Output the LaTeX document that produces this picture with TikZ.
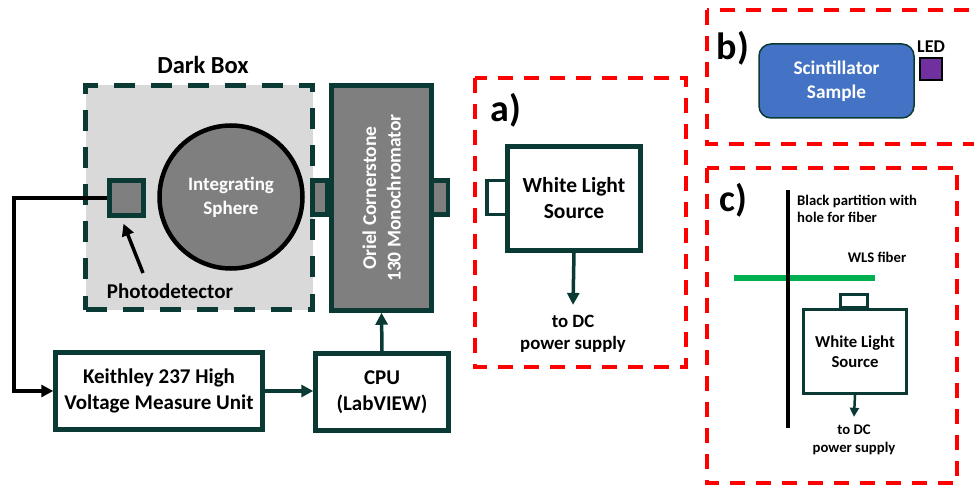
\documentclass[tikz,border=0pt]{standalone}
\usepackage{fontspec}
\setmainfont{Carlito}
\usetikzlibrary{arrows.meta}
\definecolor{darkteal}{HTML}{0B3A35}
\definecolor{boxgray}{HTML}{7F7F7F}
\definecolor{boxlight}{HTML}{D9D9D9}
\definecolor{scintblue}{HTML}{4472C4}
\definecolor{ledpurple}{HTML}{7030A0}
\definecolor{fibergreen}{HTML}{00B050}

\begin{document}
\begin{tikzpicture}[x=1pt,y=-1pt,
    every node/.style={font=\bfseries,align=center,inner sep=0pt},
    box/.style={draw=darkteal,line width=4.5pt,fill=white},
    graybox/.style={draw=darkteal,line width=4.5pt,fill=boxgray,text=white},
    redframe/.style={draw=red,line width=4pt,dash pattern=on 15pt off 11pt},
    flow/.style={draw=darkteal,line width=3.5pt,-{Triangle[length=12pt,width=12pt]}},
    wire/.style={draw=black,line width=3.5pt,-{Triangle[length=12pt,width=12pt]}}]
  \useasboundingbox (0,0) rectangle (974,486);

  % dark box with sphere and photodetector
  \node [draw=darkteal,fill=boxlight,line width=5.5pt,dash pattern=on 21pt off 16pt,minimum width=227pt,minimum height=224pt] (dark) at (199,197.5) {};
  \node [font=\bfseries\fontsize{24.5}{28}\selectfont] (darklabel) at (203,65) {Dark Box};
  \node [circle,draw=black,line width=4.5pt,fill=boxgray,text=white,minimum size=143pt,font=\bfseries\fontsize{19}{24}\selectfont] (sphere) at (231,197) {Integrating\\Sphere};
  \node [graybox,minimum width=34pt,minimum height=35pt] (pd) at (126.5,198) {};
  \node [font=\bfseries\fontsize{21}{25}\selectfont] (pdlabel) at (170,291) {Photodetector};
  \coordinate (pdtail) at (143,273);
  \draw [wire] (pdtail) -- ([xshift=-3pt,yshift=-6pt]pd.south);

  % monochromator
  \node [graybox,minimum width=15pt,minimum height=34pt] (portin) at (320,197.5) {};
  \node [graybox,minimum width=16pt,minimum height=34pt] (portout) at (440,197.5) {};
  \node [graybox,minimum width=100pt,minimum height=225pt] (mono) at (381.5,198) {};
  \node [rotate=90,text=white,font=\bfseries\fontsize{19.5}{24.5}\selectfont] (monolabel) at (mono.center) {Oriel Cornerstone\\130 Monochromator};

  % readout chain
  \node [box,minimum width=207pt,minimum height=77pt,font=\bfseries\fontsize{21}{25.5}\selectfont] (keith) at (159,391) {Keithley 237 High\\Voltage Measure Unit};
  \node [box,minimum width=133pt,minimum height=77pt,font=\bfseries\fontsize{21}{25.5}\selectfont] (cpu) at (382,392) {CPU\\(LabVIEW)};
  \coordinate (bend) at (14,300);
  \draw [wire] (pd.west) -| (bend) |- (keith.west);
  \draw [flow] (keith.east) -- (keith.east -| cpu.west);
  \draw [flow] (cpu.north) -- (mono.south);

  % a)
  \draw [redframe] (475,78) rectangle (686,367);
  \node [font=\bfseries\fontsize{38}{38}\selectfont] (alabel) at (506,110) {a)};
  \node [draw=darkteal,line width=3.5pt,fill=white,minimum width=20pt,minimum height=34pt] (aport) at (497,197.5) {};
  \node [box,minimum width=133pt,minimum height=104pt,font=\bfseries\fontsize{21.5}{26}\selectfont] (wlsa) at (574,198.5) {White Light\\Source};
  \node [font=\bfseries\fontsize{18.8}{22.5}\selectfont] (dca) at (573,334) {to DC\\power supply};
  \draw [flow] (wlsa.south) -- ([yshift=10pt]dca.north);

  % b)
  \draw [redframe] (707,10) rectangle (990,144);
  \node [font=\bfseries\fontsize{38}{38}\selectfont] (blabel) at (733,48) {b)};
  \node [draw=darkteal,line width=1.5pt,fill=scintblue,text=white,rounded corners=12pt,minimum width=155pt,minimum height=74pt,font=\bfseries\fontsize{19.3}{24}\selectfont] (scint) at (836.5,81) {Scintillator\\Sample};
  \node [draw=black,line width=1.8pt,fill=ledpurple,minimum size=22pt] (led) at (931,69) {};
  \node [font=\bfseries\fontsize{18}{20}\selectfont,anchor=south] (ledlabel) at ([yshift=4pt]led.north) {LED};

  % c)
  \draw [redframe] (707,168) rectangle (957,483);
  \node [font=\bfseries\fontsize{38}{38}\selectfont] (clabel) at (733,200) {c)};
  \coordinate (fiberl) at (734,278);
  \coordinate (fiberr) at (875,278);
  \coordinate (parttop) at (788,190);
  \coordinate (partbot) at (788,428);
  \draw [fibergreen,line width=5.5pt] (fiberl) -- (fiberr);
  \draw [black,line width=3.5pt] (parttop) -- (partbot);
  \node [anchor=west,align=left,font=\bfseries\fontsize{14.7}{17.5}\selectfont] (partlabel) at (797,209) {Black partition with\\hole for fiber};
  \node [font=\bfseries\fontsize{14.7}{17}\selectfont] (fiberlabel) at (877,257) {WLS fiber};
  \node [draw=darkteal,line width=3pt,fill=white,minimum width=27pt,minimum height=13pt] (cport) at (854,301) {};
  \node [draw=darkteal,line width=3pt,fill=white,minimum width=103pt,minimum height=84pt,font=\bfseries\fontsize{16.7}{20.5}\selectfont] (wlsc) at (855,351.5) {White Light\\Source};
  \node [font=\bfseries\fontsize{14.7}{18}\selectfont] (dcc) at (854,440) {to DC\\power supply};
  \draw [draw=darkteal,line width=2.5pt,-{Triangle[length=9pt,width=9pt]}] (wlsc.south) -- ([yshift=8pt]dcc.north);
\end{tikzpicture}
\end{document}
